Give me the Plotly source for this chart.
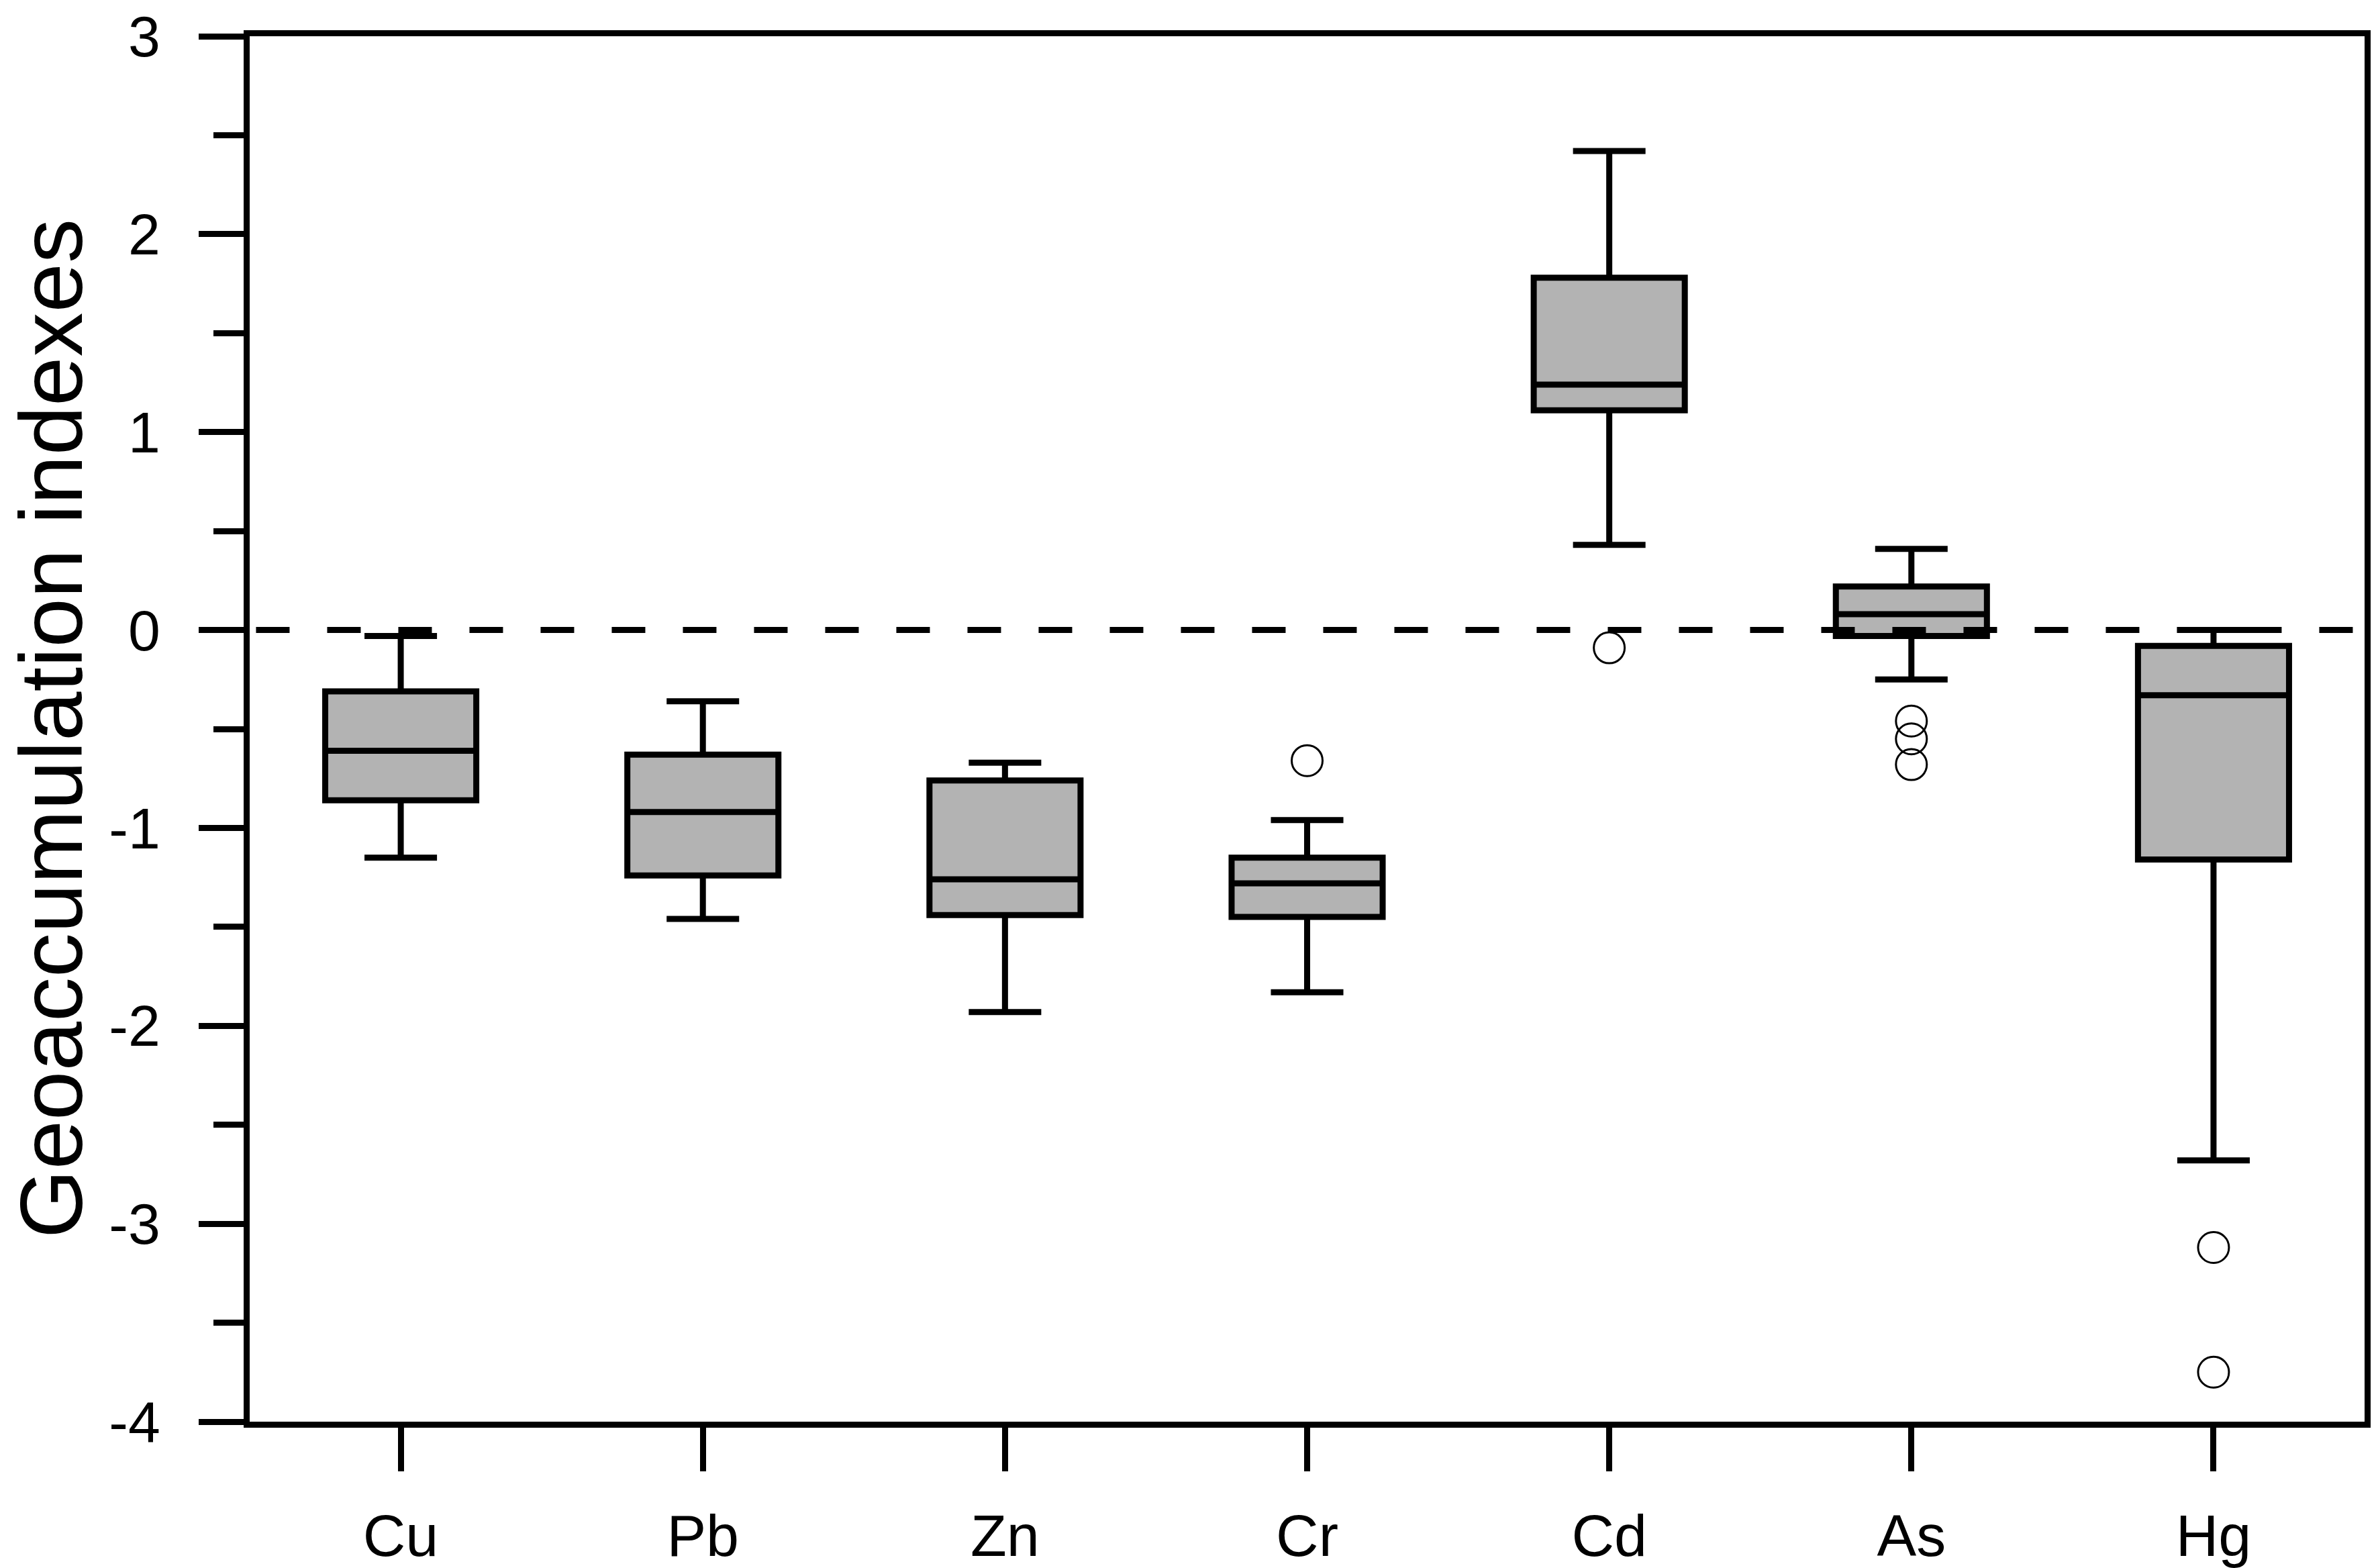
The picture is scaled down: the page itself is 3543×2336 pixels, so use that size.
import plotly.graph_objects as go

# ---- data ----
elements = ["Cu", "Pb", "Zn", "Cr", "Cd", "As", "Hg"]
lower_whisker = [-1.15, -1.46, -1.93, -1.83, 0.43, -0.25, -2.68]
q1_vals = [-0.86, -1.24, -1.44, -1.45, 1.11, -0.03, -1.16]
median_vals = [-0.61, -0.92, -1.26, -1.28, 1.24, 0.08, -0.33]
q3_vals = [-0.31, -0.63, -0.76, -1.15, 1.78, 0.22, -0.08]
upper_whisker = [-0.03, -0.36, -0.67, -0.96, 2.42, 0.41, 0.00]

outlier_elements = ["Cr", "Cd", "As", "As", "As", "Hg", "Hg"]
outlier_values = [-0.66, -0.09, -0.46, -0.55, -0.68, -3.12, -3.75]

y_tick_values = [-4, -3, -2, -1, 0, 1, 2, 3]
y_tick_labels = ["-4", "-3", "-2", "-1", "0", "1", "2", "3"]
reference_level = 0
y_title = "Geoaccumulation indexes"

FONT = "Liberation Sans, Arial, sans-serif"
# the page body keeps an 8px default margin, so the figure is 8px smaller
W, H = 3535, 2328

fig = go.Figure()
fig.add_trace(go.Box(
    x=elements,
    q1=q1_vals,
    median=median_vals,
    q3=q3_vals,
    lowerfence=lower_whisker,
    upperfence=upper_whisker,
    fillcolor="#b3b3b3",
    line=dict(color="black", width=9),
    whiskerwidth=0.48,
    width=0.5,
    boxpoints=False,
    showlegend=False,
    hoverinfo="skip",
))
fig.add_trace(go.Scatter(
    x=outlier_elements,
    y=outlier_values,
    mode="markers",
    marker=dict(symbol="circle-open", size=46, color="black", line=dict(width=3, color="black")),
    showlegend=False,
    hoverinfo="skip",
))

fig.add_shape(
    type="line", xref="paper", yref="y",
    x0=0.003, x1=1, y0=reference_level, y1=reference_level,
    line=dict(color="black", width=9, dash="50px,56px"),
    layer="above",
)

fig.add_annotation(
    text=y_title, xref="paper", yref="paper", x=0, y=0.5,
    xanchor="center", yanchor="middle", textangle=-90,
    xshift=-296, showarrow=False, borderpad=0,
    font=dict(family=FONT, size=132, color="black"),
)

fig.update_layout(
    width=W, height=H,
    margin=dict(l=364, r=20, t=46, b=218, pad=0),
    paper_bgcolor="white", plot_bgcolor="white",
    font=dict(family=FONT, color="black"),
    xaxis=dict(
        type="category", categoryorder="array", categoryarray=elements,
        range=[-0.5, 6.5], automargin=False, ticklabeloverflow="allow",
        showline=True, linecolor="black", linewidth=9, mirror=True,
        ticks="outside", ticklen=65, tickwidth=9, tickcolor="black",
        tickfont=dict(family=FONT, size=88, color="black"),
        ticklabelstandoff=20,
        showgrid=False, zeroline=False,
    ),
    yaxis=dict(
        range=[-4, 3], automargin=False, ticklabeloverflow="allow",
        tickvals=y_tick_values, ticktext=y_tick_labels,
        showline=True, linecolor="black", linewidth=9, mirror=True,
        ticks="outside", ticklen=67, tickwidth=9, tickcolor="black",
        tickfont=dict(family=FONT, size=86, color="black"),
        ticklabelstandoff=40,
        minor=dict(dtick=0.5, tick0=0, ticks="outside", ticklen=45, tickwidth=9, tickcolor="black"),
        showgrid=False, zeroline=False,
    ),
)

fig.write_html("out.html")
